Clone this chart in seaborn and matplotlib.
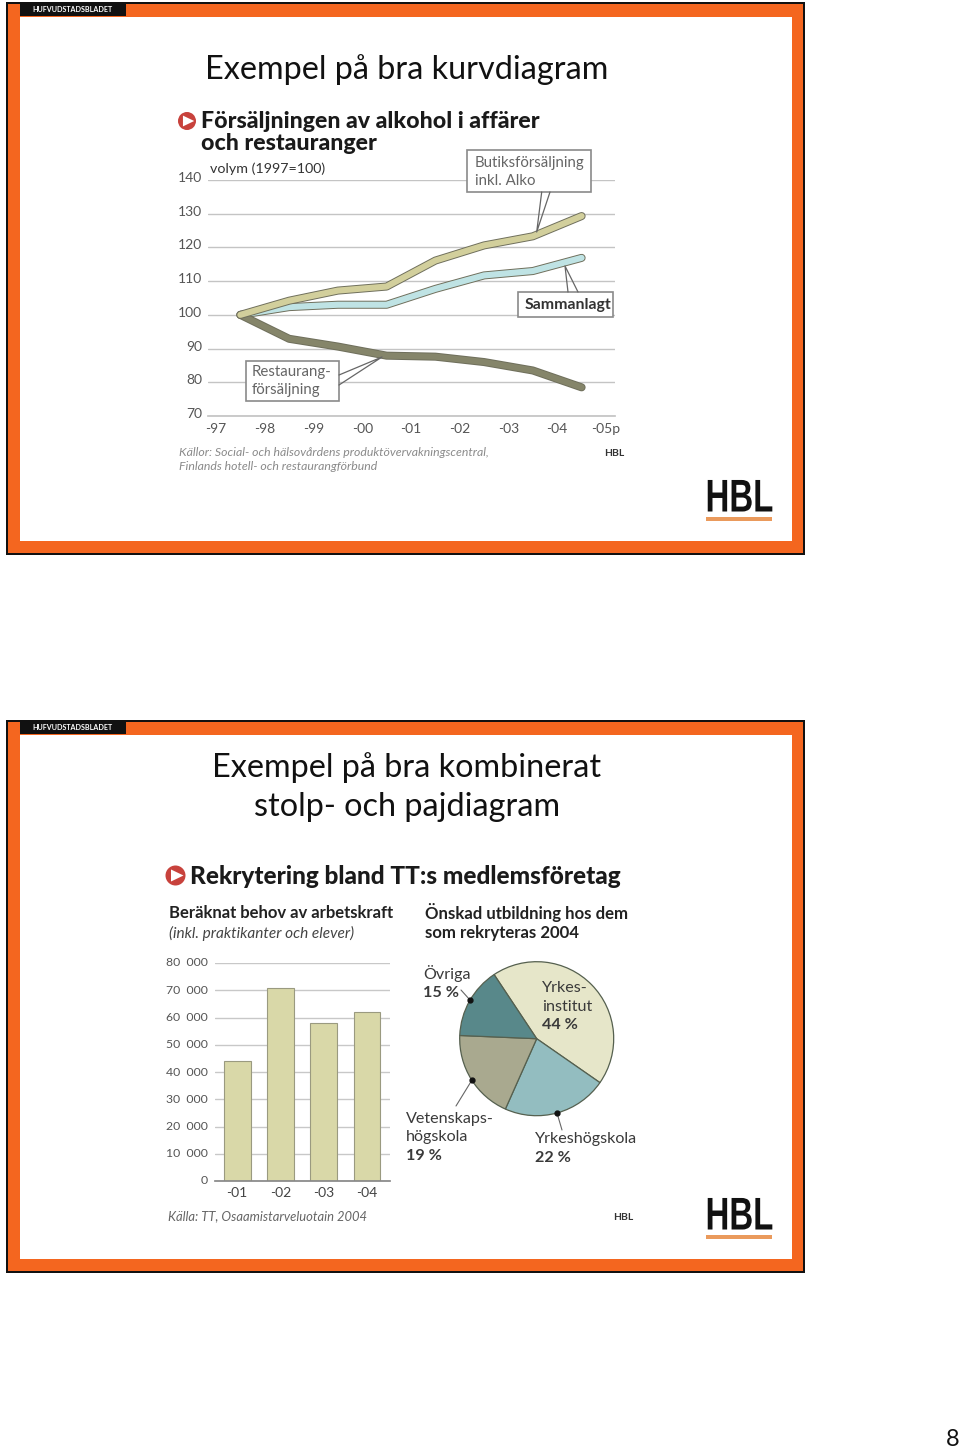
import matplotlib
matplotlib.use('Agg')
import matplotlib.pyplot as plt
import matplotlib.patheffects as pe
from matplotlib.patches import Rectangle, Circle, Polygon
from matplotlib.transforms import Affine2D, ScaledTranslation
import pandas as pd
import seaborn as sns

W, H = 960, 1447

# line chart data
years = ['-97', '-98', '-99', '-00', '-01', '-02', '-03', '-04', '-05p']
line_pos = [0.5, 1.5, 2.5, 3.5, 4.5, 5.5, 6.5, 7.5]
butik = [100, 104.2, 107.2, 108.4, 116.1, 120.6, 123.3, 129.3]
sammanlagt = [100, 102.3, 103, 103, 107.7, 111.7, 113, 116.9]
restaurang = [100, 92.9, 90.6, 87.9, 87.6, 86, 83.5, 78.5]
line_ticks = [70, 80, 90, 100, 110, 120, 130, 140]

# bar chart data
bar_years = ['-01', '-02', '-03', '-04']
bar_values = [44000, 71000, 58000, 62100]
bar_ticks = [0, 10000, 20000, 30000, 40000, 50000, 60000, 70000, 80000]

# pie data
pie_values = [44, 22, 19, 15]
pie_colors = ['#e6e6c9', '#93bdc0', '#a9a98f', '#58888a']

sns.set_theme(style='white')
plt.rcParams['font.family'] = ['Lato', 'DejaVu Sans']


class Squeeze(pe.AbstractPathEffect):
    # narrows the logo text around a display x, no condensed bold font here
    def __init__(self, cx, sx):
        super().__init__()
        self.cx, self.sx = cx, sx

    def draw_path(self, renderer, gc, tpath, affine, rgbFace=None):
        squeeze = Affine2D().translate(-self.cx, 0).scale(self.sx, 1).translate(self.cx, 0)
        renderer.draw_path(gc, tpath, affine + squeeze, rgbFace)


def px_axes(fig, left, top, right, bottom, **kw):
    return fig.add_axes([left / W, 1 - bottom / H, (right - left) / W, (bottom - top) / H], **kw)


fig = plt.figure(figsize=(W / 100, H / 100), dpi=100, facecolor='white')

bg = px_axes(fig, 0, 0, W, H, zorder=0)
bg.set_xlim(0, W)
bg.set_ylim(H, 0)
bg.axis('off')

top = px_axes(fig, 0, 0, W, H, zorder=5)
top.set_xlim(0, W)
top.set_ylim(H, 0)
top.axis('off')
top.patch.set_alpha(0)


def slide(dy):
    bg.add_patch(Rectangle((6, 2 + dy), 799, 553, fc='#111111', ec='none'))
    bg.add_patch(Rectangle((8, 4 + dy), 795, 549, fc='#f4661f', ec='none'))
    bg.add_patch(Rectangle((20, 17 + dy), 772, 524, fc='white', ec='none'))
    bg.add_patch(Rectangle((20, 4 + dy), 106, 12, fc='#111111', ec='none'))
    bg.text(72.5, 10 + dy, 'HUFVUDSTADSBLADET', color='white', fontsize=5.1, fontweight='bold',
            ha='center', va='center')
    bg.text(739.5, 499.5 + dy, 'HBL', color='#111111', fontsize=33, fontweight='bold', ha='center', va='center',
            family='Liberation Sans', path_effects=[Squeeze(739.5, 0.72)])
    bg.add_patch(Rectangle((706, 517 + dy), 66, 4, fc='#ea9a5c', ec='none'))


def play_icon(x, y, r):
    top.add_patch(Circle((x, y), r, fc='#c8423c', ec='none'))
    top.add_patch(Polygon([(x - r * 0.45, y - r * 0.6), (x + r * 0.8, y), (x - r * 0.45, y + r * 0.6)],
                          fc='white', ec='none'))


def callout(x0, y0, x1, y1, leader):
    top.add_patch(Rectangle((x0, y0), x1 - x0, y1 - y0, fc='white', ec='#8a8a8a', lw=1.2))
    top.plot([p[0] for p in leader], [p[1] for p in leader], color='#666666', lw=0.9, zorder=1)


slide(0)
slide(718)

bg.text(407, 70, 'Exempel på bra kurvdiagram', fontsize=23.3, color='#111111', ha='center', va='center')
bg.text(407, 768, 'Exempel på bra kombinerat', fontsize=23.3, color='#111111', ha='center', va='center')
bg.text(407, 807, 'stolp- och pajdiagram', fontsize=23.3, color='#111111', ha='center', va='center')
bg.text(953, 1439, '8', fontsize=17, color='#111111', ha='center', va='center')

# line chart
ax1 = px_axes(fig, 208, 180, 615, 416, zorder=2)
ax1.patch.set_alpha(0)
long = pd.DataFrame({
    'pos': line_pos * 3,
    'value': butik + sammanlagt + restaurang,
    'series': ['Butik'] * 8 + ['Sammanlagt'] * 8 + ['Restaurang'] * 8,
})
sns.lineplot(data=long, x='pos', y='value', hue='series', ax=ax1, legend=False, linewidth=4.4,
             hue_order=['Sammanlagt', 'Restaurang', 'Butik'],
             palette={'Butik': '#d2cf9c', 'Sammanlagt': '#bfe3e4', 'Restaurang': '#85856a'}, errorbar=None)
for ln in ax1.lines:
    ln.set_solid_capstyle('round')
    ln.set_path_effects([pe.withStroke(linewidth=5.8, foreground='#6f6f5c')])
ax1.set_xlim(-0.164, 8.185)
ax1.set_ylim(70, 140)
ax1.set_xticks(range(len(years)))
ax1.set_xticklabels(years)
ax1.set_yticks(line_ticks)
ax1.set_xlabel('')
ax1.set_ylabel('')
ax1.grid(axis='y', color='#c4c4c4', lw=1)
ax1.set_axisbelow(True)
sns.despine(ax=ax1, left=True, top=True, right=True)
ax1.spines['bottom'].set_color('#c4c4c4')
ax1.tick_params(axis='x', direction='in', length=4, width=0.8, color='#b0b0b0', labelsize=10, labelcolor='#555555', pad=5)
ax1.tick_params(axis='y', length=0, labelsize=10, labelcolor='#555555', pad=4)
up3 = ScaledTranslation(0, 3 / 100, fig.dpi_scale_trans)
for lab in ax1.get_yticklabels():
    lab.set_transform(lab.get_transform() + up3)

play_icon(187, 121, 9)
top.text(201, 121, 'Försäljningen av alkohol i affärer', fontsize=16.7, fontweight='black', color='#1a1a1a', va='center')
top.text(201, 144, 'och restauranger', fontsize=16.7, fontweight='black', color='#1a1a1a', va='center')
top.text(210, 169, 'volym (1997=100)', fontsize=10.3, color='#333333', va='center')

callout(467, 150, 591, 192, [(541.7, 192), (536.7, 232), (550, 192)])
top.text(475, 163, 'Butiksförsäljning', fontsize=10.8, color='#666666', va='center')
top.text(475, 181, 'inkl. Alko', fontsize=10.8, color='#666666', va='center')
callout(518, 292, 613, 317, [(568, 292), (565, 266), (578, 292)])
top.text(567.5, 305, 'Sammanlagt', fontsize=11.4, fontweight='bold', color='#333333', va='center', ha='center')
callout(246, 361, 339, 401, [(339, 375), (382, 357), (339, 385)])
top.text(252, 372, 'Restaurang-', fontsize=10.8, color='#666666', va='center')
top.text(252, 390, 'försäljning', fontsize=10.8, color='#666666', va='center')

top.text(179, 452, 'Källor: Social- och hälsovårdens produktövervakningscentral,', fontsize=8.8, style='italic', color='#8a8a8a', va='center')
top.text(179, 467, 'Finlands hotell- och restaurangförbund', fontsize=8.8, style='italic', color='#8a8a8a', va='center')
top.text(604, 453, 'HBL', fontsize=7.5, fontweight='bold', color='#333333', va='center')

# bar chart
ax2 = px_axes(fig, 215, 963, 390, 1181, zorder=2)
ax2.patch.set_alpha(0)
bars = pd.DataFrame({'year': bar_years, 'value': bar_values})
sns.barplot(data=bars, x='year', y='value', color='#d9d8a8', saturation=1, width=0.62, ax=ax2,
            edgecolor='#9a9a80', linewidth=0.8)
ax2.set_xlim(-0.51, 3.53)
ax2.set_ylim(0, 80000)
ax2.set_yticks(bar_ticks)
ax2.set_yticklabels([f'{v:,}'.replace(',', '  ') for v in bar_ticks])
ax2.set_xlabel('')
ax2.set_ylabel('')
ax2.grid(axis='y', color='#c8c8c8', lw=1)
ax2.set_axisbelow(True)
sns.despine(ax=ax2, left=True, top=True, right=True)
ax2.spines['bottom'].set_color('#888888')
ax2.tick_params(axis='x', length=0, labelsize=10, labelcolor='#444444', pad=4)
ax2.tick_params(axis='y', length=0, labelsize=8.8, labelcolor='#555555', pad=5)
up1 = ScaledTranslation(0, 1 / 100, fig.dpi_scale_trans)
for lab in ax2.get_yticklabels():
    lab.set_transform(lab.get_transform() + up1)

play_icon(175.5, 875.5, 10)
top.text(190, 876, 'Rekrytering bland TT:s medlemsföretag', fontsize=17.6, fontweight='black', color='#1a1a1a', va='center')
top.text(169, 913, 'Beräknat behov av arbetskraft', fontsize=12, fontweight='bold', color='#222222', va='center')
top.text(169, 933, '(inkl. praktikanter och elever)', fontsize=11.1, style='italic', color='#444444', va='center')
top.text(425, 913, 'Önskad utbildning hos dem', fontsize=12.1, fontweight='bold', color='#222222', va='center')
top.text(425, 933, 'som rekryteras 2004', fontsize=12.1, fontweight='bold', color='#222222', va='center')

# pie chart
ax3 = px_axes(fig, 459.7, 961.7, 613.7, 1115.7, zorder=2)
ax3.pie(pie_values, colors=pie_colors, startangle=123.6, counterclock=False, radius=1,
        wedgeprops={'edgecolor': '#55604f', 'linewidth': 0.9})
ax3.set_xlim(-1, 1)
ax3.set_ylim(-1, 1)

for pts in ([(470, 1000), (461, 990)], [(472, 1080), (456, 1106)], [(557, 1113), (562, 1130)]):
    top.plot([p[0] for p in pts], [p[1] for p in pts], color='#666666', lw=0.8)
    top.plot(pts[0][0], pts[0][1], 'o', color='#111111', ms=3.5)

pie_text = [
    (423, 974, 'Övriga', 'normal'), (423, 993, '15 %', 'bold'),
    (542, 988, 'Yrkes-', 'normal'), (542, 1007, 'institut', 'normal'), (542, 1025, '44 %', 'bold'),
    (406, 1119, 'Vetenskaps-', 'normal'), (406, 1137, 'högskola', 'normal'), (406, 1156, '19 %', 'bold'),
    (535, 1139, 'Yrkeshögskola', 'normal'), (535, 1158, '22 %', 'bold'),
]
for x, y, s, w in pie_text:
    top.text(x, y, s, fontsize=11.6, fontweight=w, color='#3a3a3a', va='center')

top.text(168, 1216, 'Källa: TT, Osaamistarveluotain 2004', fontsize=9.4, style='italic', color='#666666', va='center')
top.text(613, 1217, 'HBL', fontsize=7.5, fontweight='bold', color='#333333', va='center')

fig.savefig('out.png', dpi=100)
